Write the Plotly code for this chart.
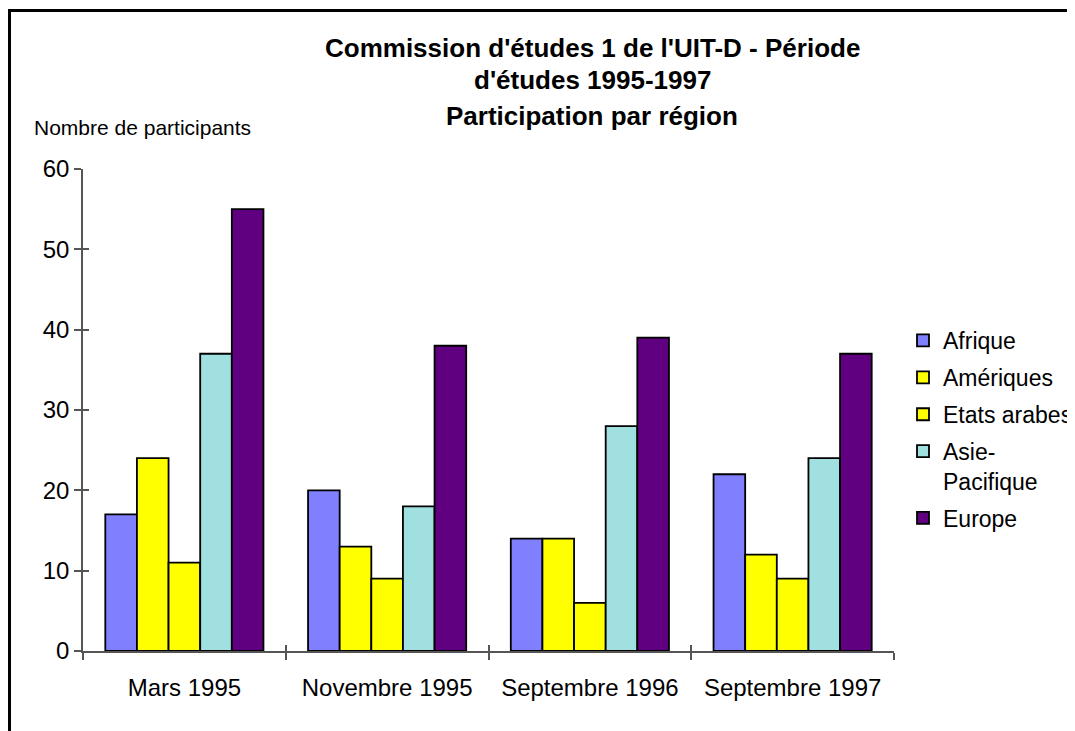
import plotly.graph_objects as go

categories = ["Mars 1995", "Novembre 1995", "Septembre 1996", "Septembre 1997"]
series_names = ["Afrique", "Amériques", "Etats arabes", "Asie-<br>Pacifique", "Europe"]
afrique = [17, 20, 14, 22]
ameriques = [24, 13, 14, 12]
etats_arabes = [11, 9, 6, 9]
asie_pacifique = [37, 18, 28, 24]
europe = [55, 38, 39, 37]
series_values = [afrique, ameriques, etats_arabes, asie_pacifique, europe]
colors = ["#8080FF", "#FFFF00", "#FFFF00", "#A0E0E0", "#600080"]
y_ticks = [0, 10, 20, 30, 40, 50, 60]

FONT = "Liberation Sans, Arial, sans-serif"

fig = go.Figure()
for i, (name, vals, col) in enumerate(zip(series_names, series_values, colors)):
    fig.add_trace(go.Bar(
        x=categories, y=vals, name=name,
        marker=dict(color=col, line=dict(color="black", width=1.8)),
        legendgroup=str(i),
    ))

# Figure-space pixels (page offset of 8px removed)
W, H = 1075, 731
L, R, T, B = 75, 886, 161, 643
pw, ph = R - L, B - T

def px(x):
    return (x - L) / pw

def py(y):
    return (B - y) / ph

axis_col = "#555555"
fig.update_layout(
    width=W, height=H,
    margin=dict(l=L, r=W - R, t=T, b=H - B, autoexpand=False),
    paper_bgcolor="white", plot_bgcolor="white",
    barmode="group", bargap=0.22, bargroupgap=0,
    font=dict(family=FONT, size=24, color="black"),
    showlegend=True,
    legend=dict(x=px(895), y=py(311), xanchor="left", yanchor="top",
                font=dict(size=23, family=FONT), traceorder="grouped",
                tracegroupgap=4, valign="top", bgcolor="rgba(0,0,0,0)"),
    xaxis=dict(showline=True, linecolor=axis_col, linewidth=1.5,
               ticks="outside", ticklen=7, tickcolor=axis_col, tickwidth=1.5,
               tickson="boundaries", ticklabelstandoff=14,
               tickfont=dict(size=24, family=FONT), showgrid=False, zeroline=False),
    yaxis=dict(range=[0, 60], tickvals=y_ticks, showline=True, linecolor=axis_col,
               linewidth=1.5, ticks="outside", ticklen=7, tickcolor=axis_col,
               tickwidth=1.5, ticklabelstandoff=0,
               tickfont=dict(size=24, family=FONT), showgrid=False, zeroline=False),
    xaxis2=dict(overlaying="x", range=[-0.5, 3.5], tickvals=[-0.5, 0.5, 1.5, 2.5, 3.5],
                ticks="inside", ticklen=6, tickcolor=axis_col, tickwidth=1.5,
                showticklabels=False, showline=False, showgrid=False, zeroline=False,
                side="bottom"),
    yaxis2=dict(overlaying="y", range=[0, 60], tickvals=y_ticks,
                ticks="inside", ticklen=6, tickcolor=axis_col, tickwidth=1.5,
                showticklabels=False, showline=False, showgrid=False, zeroline=False,
                side="left"),
)

# invisible trace to activate overlay axes
fig.add_trace(go.Scatter(x=[0], y=[0], xaxis="x2", yaxis="y2", mode="markers",
                         marker=dict(opacity=0), showlegend=False, hoverinfo="skip"))

title_lines = ["Commission d'études 1 de l'UIT-D - Période",
               "d'études 1995-1997",
               "Participation par région"]
title_y = [39.5, 72, 108]
for txt, yy in zip(title_lines, title_y):
    fig.add_annotation(text="<b>" + txt + "</b>", x=px(584), y=py(yy),
                       xref="paper", yref="paper", xanchor="center", yanchor="middle",
                       showarrow=False, font=dict(size=26, family=FONT, color="black"))

fig.add_annotation(text="Nombre de participants", x=px(24), y=py(119),
                   xref="paper", yref="paper", xanchor="left", yanchor="middle",
                   showarrow=False, font=dict(size=21, family=FONT, color="black"))

# outer frame
fig.add_shape(type="rect", xref="paper", yref="paper",
              x0=px(1.5), x1=px(1100), y0=py(760), y1=py(2.5),
              line=dict(color="black", width=3), fillcolor="rgba(0,0,0,0)", layer="below")

fig.write_html("out.html")
